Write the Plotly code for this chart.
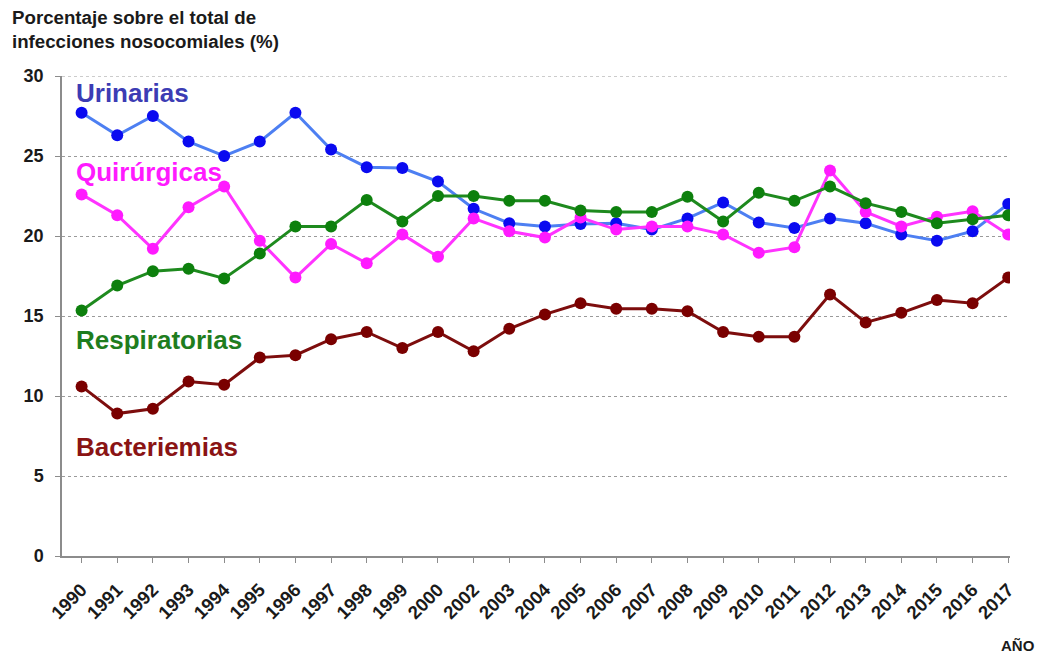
import plotly.graph_objects as go

years = ["1990", "1991", "1992", "1993", "1994", "1995", "1996", "1997", "1998",
         "1999", "2000", "2002", "2003", "2004", "2005", "2006", "2007", "2008",
         "2009", "2010", "2011", "2012", "2013", "2014", "2015", "2016", "2017"]

urinarias = [27.7, 26.3, 27.5, 25.9, 25.0, 25.9, 27.7, 25.4, 24.3, 24.25, 23.4,
             21.7, 20.8, 20.6, 20.75, 20.8, 20.4, 21.1, 22.1, 20.85, 20.5, 21.1,
             20.8, 20.1, 19.7, 20.3, 22.0]
quirurgicas = [22.6, 21.3, 19.2, 21.8, 23.1, 19.7, 17.4, 19.5, 18.3, 20.1, 18.7,
               21.1, 20.3, 19.9, 21.15, 20.4, 20.6, 20.6, 20.1, 18.95, 19.3, 24.1,
               21.5, 20.6, 21.2, 21.55, 20.1]
respiratorias = [15.35, 16.9, 17.8, 17.95, 17.35, 18.9, 20.6, 20.6, 22.25, 20.9, 22.5,
                 22.5, 22.2, 22.2, 21.6, 21.5, 21.5, 22.45, 20.9, 22.7, 22.2, 23.1,
                 22.05, 21.5, 20.8, 21.05, 21.3]
bacteriemias = [10.6, 8.9, 9.2, 10.9, 10.7, 12.4, 12.55, 13.55, 14.0, 13.0, 14.0,
                12.8, 14.2, 15.1, 15.8, 15.45, 15.45, 15.3, 14.0, 13.7, 13.7, 16.35,
                14.6, 15.2, 16.0, 15.8, 17.4]

y_ticks = [0, 5, 10, 15, 20, 25, 30]

FONT = "Liberation Sans, Arial, sans-serif"
GRID = "#9a9a9a"

series = [
    ("Urinarias", urinarias, "#4d7ff2", "#0a0af0", "#3c3cb4", 0.965),
    ("Quirúrgicas", quirurgicas, "#ff33ff", "#ff1aff", "#ff1aff", 0.800),
    ("Respiratorias", respiratorias, "#1e8a1e", "#0d800d", "#1e7d1e", 0.450),
    ("Bacteriemias", bacteriemias, "#7d0d0d", "#7a0000", "#8a1414", 0.227),
]

fig = go.Figure()
for name, vals, line_c, mark_c, _, _ in series:
    fig.add_trace(go.Scatter(
        x=years, y=vals, name=name, mode="lines+markers",
        line=dict(color=line_c, width=3),
        marker=dict(color=mark_c, size=12, line=dict(width=0)),
        showlegend=False,
    ))

for name, _, _, _, text_c, ypos in series:
    fig.add_annotation(
        x=0.013, y=ypos, xref="paper", yref="paper",
        xanchor="left", yanchor="middle", showarrow=False,
        text=name, font=dict(family=FONT, size=26, color=text_c, weight="bold"),
    )

# axis title (top-left) and x-axis caption (bottom-right)
fig.add_annotation(
    x=(10 - 62) / 948, y=(556 - 5) / 480, xref="paper", yref="paper",
    showarrow=False,
    text="Porcentaje sobre el total de<br>infecciones nosocomiales (%)",
    align="left", xanchor="left", yanchor="top",
    font=dict(family=FONT, size=18.7, color="#1a1a1a", weight="bold"),
)
fig.add_annotation(
    x=(1037 - 62) / 948, y=-(645 - 556) / 480, xref="paper", yref="paper",
    showarrow=False, text="AÑO", xanchor="right", yanchor="middle",
    font=dict(family=FONT, size=15, color="#1a1a1a", weight="bold"),
)

# dotted gridline along the top value of the scale
fig.add_shape(
    type="line", xref="paper", yref="y", x0=0, x1=1, y0=y_ticks[-1], y1=y_ticks[-1],
    line=dict(color=GRID, width=1, dash="dot"),
)

fig.update_layout(
    width=1041, height=654,
    margin=dict(l=62, r=31, t=76, b=98),
    paper_bgcolor="white", plot_bgcolor="white",
)
fig.update_xaxes(
    type="category", range=[-0.55, 26.05],
    showline=True, linecolor="#8c8c8c", linewidth=1.5,
    ticks="outside", ticklen=5, tickcolor="#8c8c8c",
    tickangle=-45, showgrid=False, ticklabelstandoff=9,
    tickfont=dict(family=FONT, size=18.5, color="#1a1a1a", weight="bold"),
)
fig.update_yaxes(
    range=[0, 30], tickvals=y_ticks,
    showline=True, linecolor="#8c8c8c", linewidth=1.5,
    ticks="outside", ticklen=5, tickcolor="#8c8c8c",
    showgrid=True, gridcolor=GRID, griddash="dot", gridwidth=1,
    zeroline=False, ticklabelstandoff=8,
    tickfont=dict(family=FONT, size=18, color="#1a1a1a", weight="bold"),
)

fig.write_html("out.html")
